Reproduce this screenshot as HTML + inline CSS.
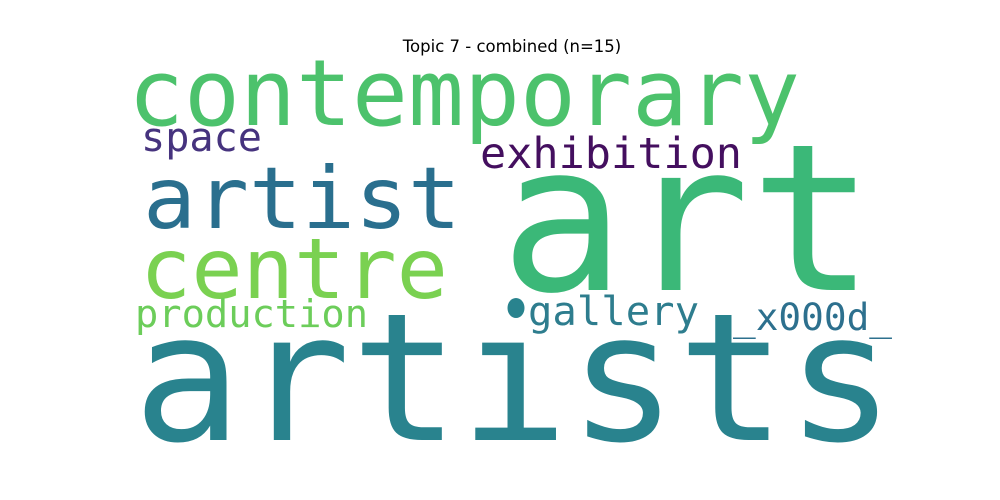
<!DOCTYPE html>
<html><head><meta charset="utf-8"><style>
html,body{margin:0;padding:0;background:#fff;}
svg{display:block}
text.w{font-family:"DejaVu Sans Mono","Liberation Mono",monospace;}
</style></head><body>
<svg width="1000" height="500" viewBox="0 0 1000 500">
<rect width="1000" height="500" fill="#fff"/>
<text x="512" y="52" text-anchor="middle" font-family="DejaVu Sans, Liberation Sans, sans-serif" font-size="16.5" fill="#000">Topic 7 - combined (n=15)</text>
<text class="w" x="128" y="125" font-size="92" textLength="672" lengthAdjust="spacingAndGlyphs" fill="#4cc26c">contemporary</text>
<text class="w" x="143" y="228" font-size="86" textLength="318" lengthAdjust="spacingAndGlyphs" fill="#2a6f8e">artist</text>
<text class="w" x="500" y="290" font-size="205" textLength="375" lengthAdjust="spacingAndGlyphs" fill="#3bb878">art</text>
<text class="w" x="133" y="440" font-size="178" textLength="762" lengthAdjust="spacingAndGlyphs" fill="#29838e">artists</text>
<rect x="502" y="300" width="26" height="34" fill="#fff"/>
<ellipse cx="516" cy="308" rx="8.5" ry="10" fill="#29838e"/>
<text class="w" x="140" y="298" font-size="84" textLength="308" lengthAdjust="spacingAndGlyphs" fill="#7ad151">centre</text>
<text class="w" x="141" y="151" font-size="40" textLength="121" lengthAdjust="spacingAndGlyphs" fill="#46337e">space</text>
<text class="w" x="480" y="168" font-size="43" textLength="262" lengthAdjust="spacingAndGlyphs" fill="#440f5f">exhibition</text>
<text class="w" x="135" y="327" font-size="38" textLength="233" lengthAdjust="spacingAndGlyphs" fill="#6ccd5a">production</text>
<text class="w" x="528" y="325" font-size="40" textLength="171" lengthAdjust="spacingAndGlyphs" fill="#2e7d8e">gallery</text>
<text class="w" x="733" y="330" font-size="37" textLength="159" lengthAdjust="spacingAndGlyphs" fill="#2d708e">_x000d_</text>
</svg>
</body></html>
